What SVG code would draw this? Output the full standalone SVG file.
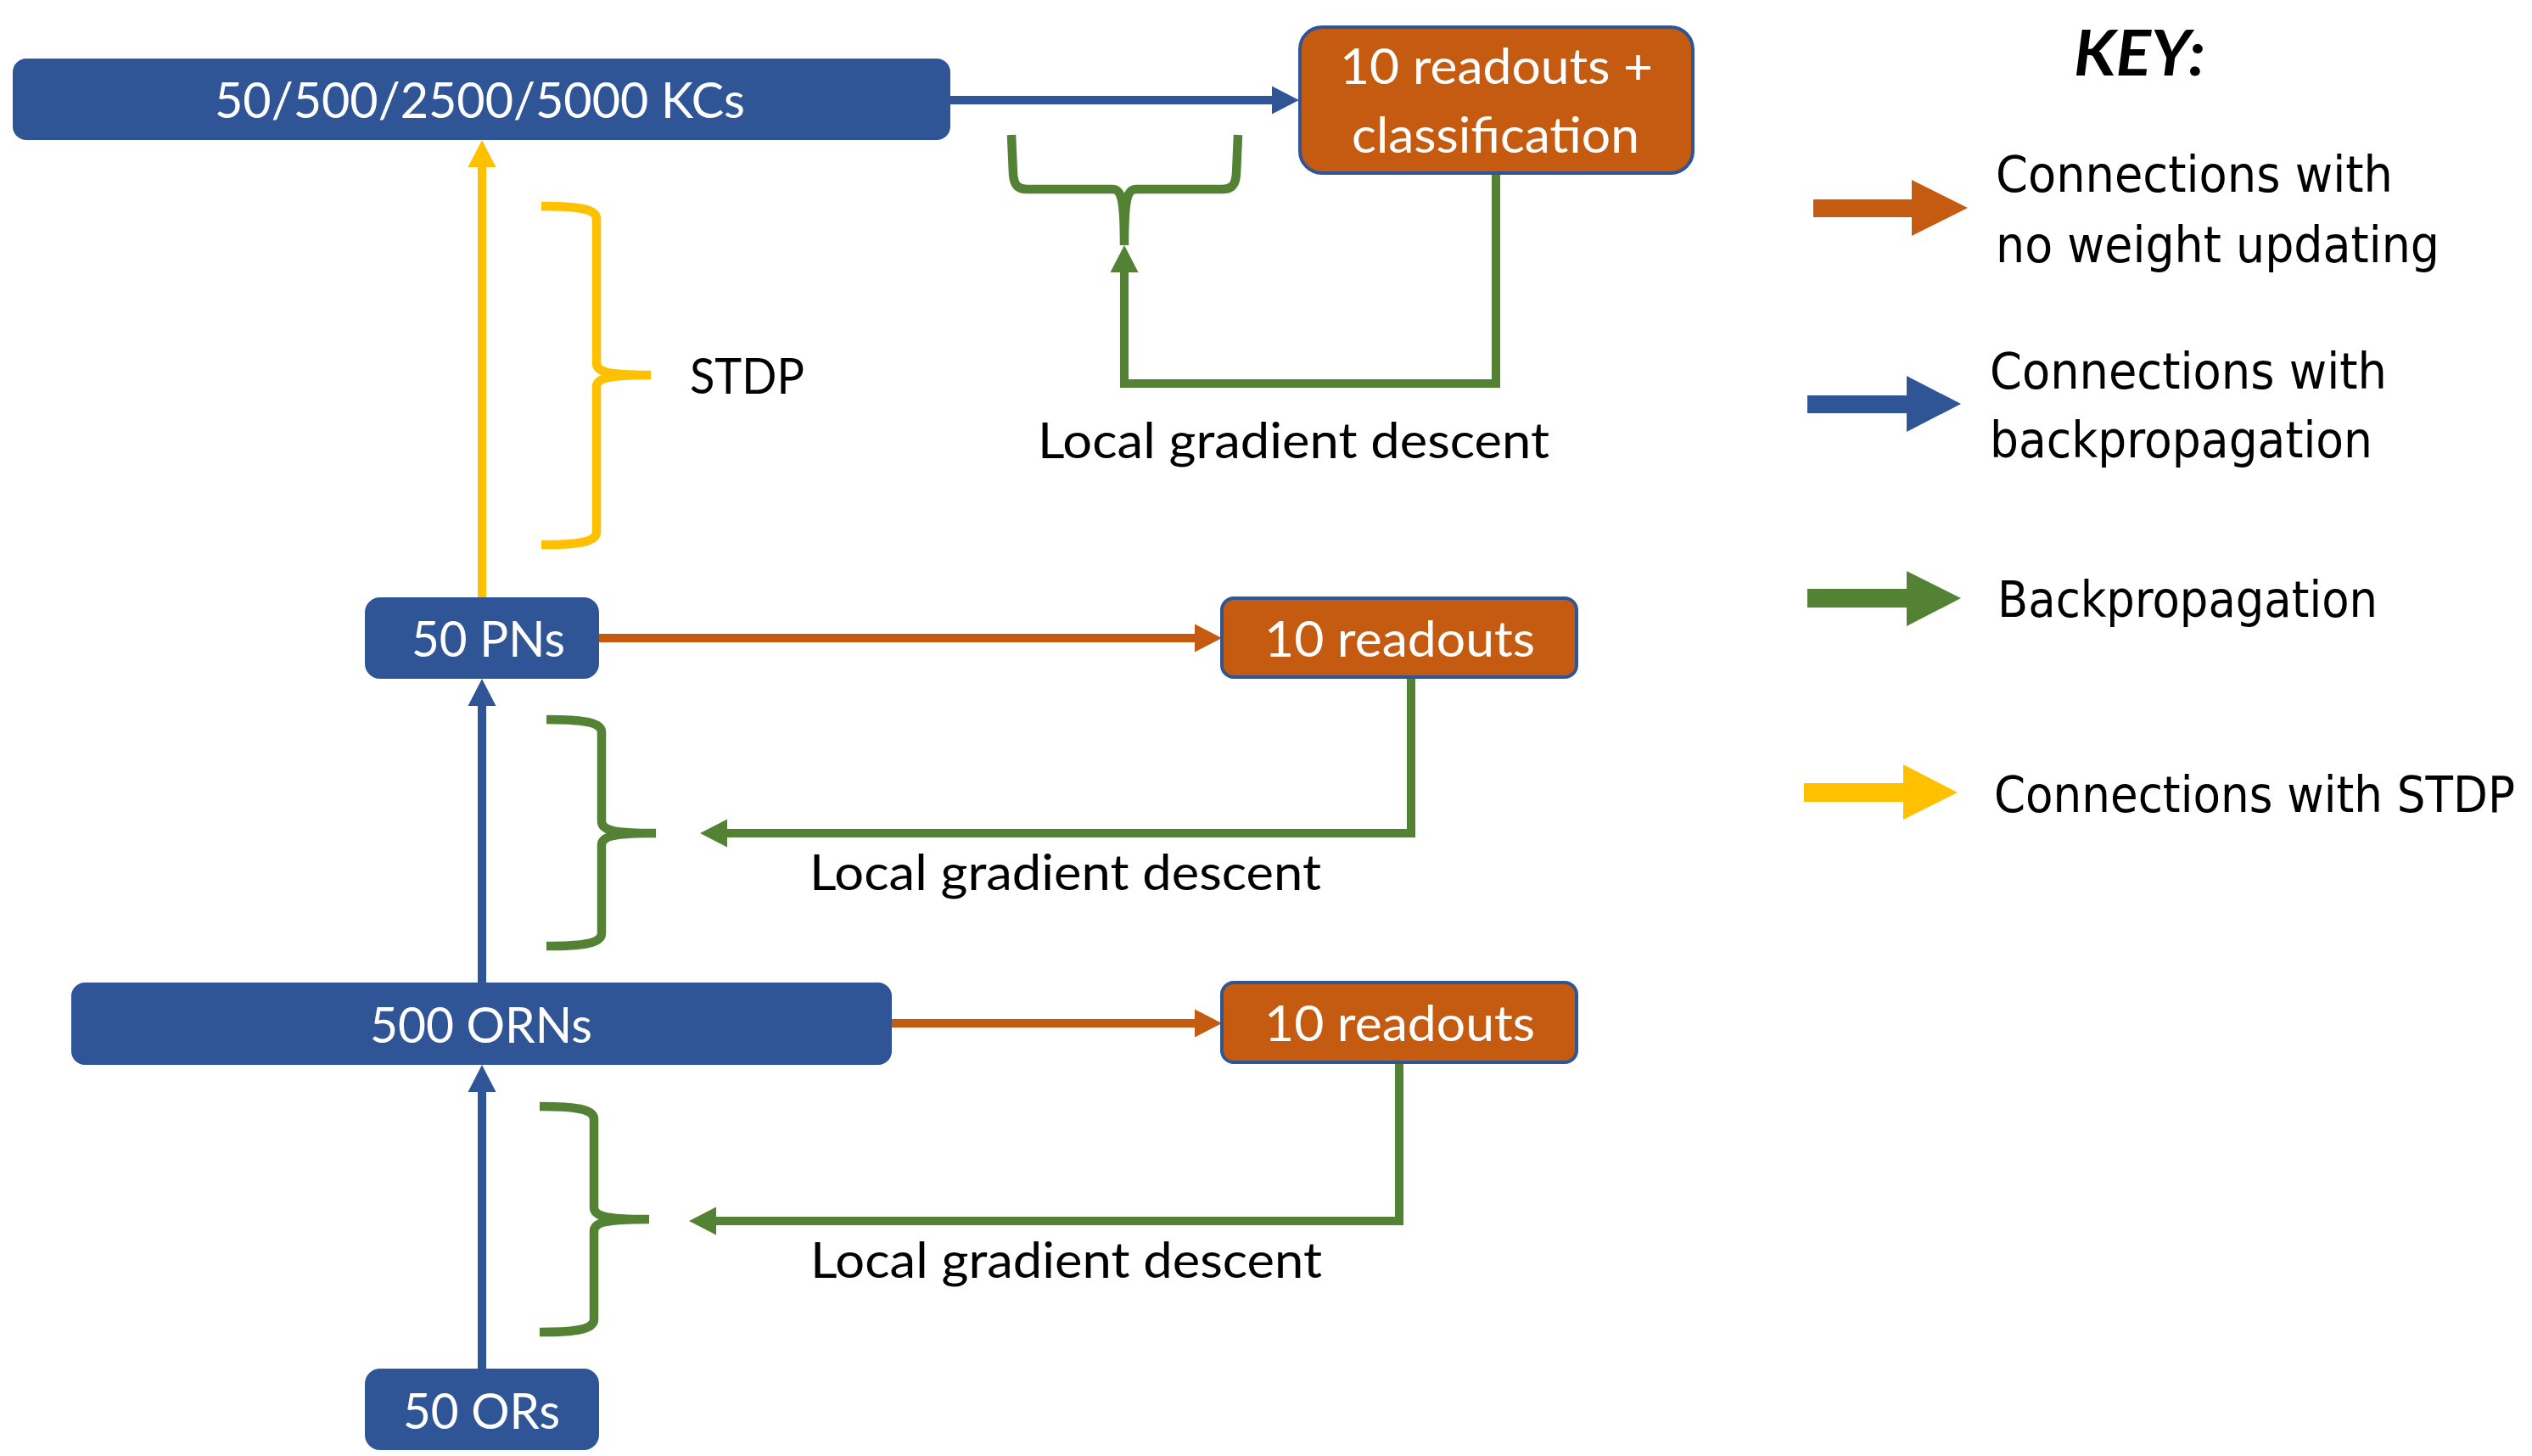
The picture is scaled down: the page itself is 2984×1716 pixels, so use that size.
<svg xmlns="http://www.w3.org/2000/svg" width="2984" height="1716" viewBox="0 0 2984 1716">
<style>
.bluebox{fill:#2F5597;stroke:#2F5597;stroke-width:2}
.orbox{fill:#C55A11;stroke:#2F5597;stroke-width:4}
.t{font-family:Lato,"Liberation Sans",sans-serif;font-size:59px}
.w{fill:#ffffff}
.k{fill:#000000}
.key{font-family:"DejaVu Sans","Liberation Sans",sans-serif;font-size:58px;fill:#000}
.ln{fill:none;stroke-width:10;stroke-linejoin:miter}
.br{fill:none;stroke-width:10.5}
</style>
<defs>
<marker id="hb" markerUnits="userSpaceOnUse" markerWidth="32" markerHeight="34" refX="0" refY="16.5" orient="auto" overflow="visible"><path d="M0,0 L32,16.5 L0,33 z" fill="#2F5597"/></marker>
<marker id="ho" markerUnits="userSpaceOnUse" markerWidth="32" markerHeight="34" refX="0" refY="16.5" orient="auto" overflow="visible"><path d="M0,0 L32,16.5 L0,33 z" fill="#C55A11"/></marker>
<marker id="hg" markerUnits="userSpaceOnUse" markerWidth="32" markerHeight="34" refX="0" refY="16.5" orient="auto" overflow="visible"><path d="M0,0 L32,16.5 L0,33 z" fill="#548235"/></marker>
<marker id="hy" markerUnits="userSpaceOnUse" markerWidth="32" markerHeight="34" refX="0" refY="16.5" orient="auto" overflow="visible"><path d="M0,0 L32,16.5 L0,33 z" fill="#FFC000"/></marker>
</defs>
<rect width="2984" height="1716" fill="#ffffff"/>

<g id="connectors">
<line class="ln" x1="568" y1="706" x2="568" y2="197" stroke="#FFC000" marker-end="url(#hy)"/>
<line class="ln" x1="568" y1="1158" x2="568" y2="832" stroke="#2F5597" marker-end="url(#hb)"/>
<line class="ln" x1="568" y1="1613" x2="568" y2="1287" stroke="#2F5597" marker-end="url(#hb)"/>
<line class="ln" x1="1119" y1="118" x2="1499" y2="118" stroke="#2F5597" marker-end="url(#hb)"/>
<line class="ln" x1="705" y1="752" x2="1408" y2="752" stroke="#C55A11" marker-end="url(#ho)"/>
<line class="ln" x1="1050" y1="1206" x2="1408" y2="1206" stroke="#C55A11" marker-end="url(#ho)"/>
<polyline class="ln" points="1763,205 1763,452 1325,452 1325,321" stroke="#548235" marker-end="url(#hg)"/>
<polyline class="ln" points="1663,798 1663,982 857,982" stroke="#548235" marker-end="url(#hg)"/>
<polyline class="ln" points="1649,1253 1649,1439 844,1439" stroke="#548235" marker-end="url(#hg)"/>
<path class="br" stroke="#FFC000" d="M638,243 C680,243 703,246 703,258 L703,428 C703,438 715,442 767,442 C715,442 703,446 703,456 L703,627 C703,639 680,642 638,642"/>
<path class="br" stroke="#548235" d="M644,848 C686,848 709,851 709,863 L709,968 C709,978 721,982 773,982 C721,982 709,986 709,996 L709,1100 C709,1112 686,1115 644,1115"/>
<path class="br" stroke="#548235" d="M636,1304 C678,1304 700,1307 700,1319 L700,1423 C700,1433 712,1437 765,1437 C712,1437 700,1441 700,1451 L700,1555 C700,1567 678,1570 636,1570"/>
<path class="br" stroke="#548235" d="M1192,159 L1194,205 C1195,218 1199,223 1211,223 L1311,223 C1321,223 1325,232 1325,289 C1325,232 1329,223 1339,223 L1440,223 C1452,223 1456,218 1457,205 L1459,159"/>
</g>

<g id="kcs">
<rect class="bluebox" x="16" y="70" width="1103" height="94" rx="15"/>
<text class="t w" x="253" y="139" textLength="625" lengthAdjust="spacingAndGlyphs">50/500/2500/5000 KCs</text>
</g>
<g id="readout-class">
<rect class="orbox" x="1532" y="32" width="463" height="172" rx="26"/>
<text class="t w" x="1579" y="99" textLength="369" lengthAdjust="spacingAndGlyphs">10 readouts +</text>
<text class="t w" x="1593" y="180" textLength="339" lengthAdjust="spacingAndGlyphs">classification</text>
</g>
<g id="pns">
<rect class="bluebox" x="431" y="705" width="274" height="94" rx="17"/>
<text class="t w" x="485" y="774" textLength="181" lengthAdjust="spacingAndGlyphs">50 PNs</text>
</g>
<g id="readout1">
<rect class="orbox" x="1440" y="705" width="418" height="93" rx="14"/>
<text class="t w" x="1490" y="774" textLength="319" lengthAdjust="spacingAndGlyphs">10 readouts</text>
</g>
<g id="orns">
<rect class="bluebox" x="85" y="1159" width="965" height="95" rx="15"/>
<text class="t w" x="436" y="1229" textLength="262" lengthAdjust="spacingAndGlyphs">500 ORNs</text>
</g>
<g id="readout2">
<rect class="orbox" x="1440" y="1158" width="418" height="94" rx="14"/>
<text class="t w" x="1490" y="1227" textLength="319" lengthAdjust="spacingAndGlyphs">10 readouts</text>
</g>
<g id="ors">
<rect class="bluebox" x="431" y="1614" width="274" height="94" rx="17"/>
<text class="t w" x="475" y="1684" textLength="185" lengthAdjust="spacingAndGlyphs">50 ORs</text>
</g>

<g id="labels">
<text class="t k" x="813" y="464" textLength="135" lengthAdjust="spacingAndGlyphs">STDP</text>
<text class="t k" x="1223" y="540" textLength="603" lengthAdjust="spacingAndGlyphs">Local gradient descent</text>
<text class="t k" x="954" y="1049" textLength="603" lengthAdjust="spacingAndGlyphs">Local gradient descent</text>
<text class="t k" x="955" y="1506" textLength="603" lengthAdjust="spacingAndGlyphs">Local gradient descent</text>
</g>

<g id="key">
<text x="2444" y="89" font-family="Lato,'Liberation Sans',sans-serif" font-weight="bold" font-style="italic" font-size="75" textLength="155" lengthAdjust="spacingAndGlyphs">KEY:</text>
<polygon fill="#C55A11" points="2137,235 2253,235 2253,212 2319,245 2253,278 2253,256 2137,256"/>
<text class="key" x="2352" y="226" textLength="468" lengthAdjust="spacingAndGlyphs">Connections with</text>
<text class="key" x="2352" y="309" textLength="523" lengthAdjust="spacingAndGlyphs">no weight updating</text>
<polygon fill="#2F5597" points="2130,466 2247,466 2247,443 2311,476 2247,509 2247,487 2130,487"/>
<text class="key" x="2345" y="458" textLength="468" lengthAdjust="spacingAndGlyphs">Connections with</text>
<text class="key" x="2345" y="539" textLength="451" lengthAdjust="spacingAndGlyphs">backpropagation</text>
<polygon fill="#548235" points="2130,694 2247,694 2247,673 2311,705 2247,738 2247,716 2130,716"/>
<text class="key" x="2354" y="727" textLength="448" lengthAdjust="spacingAndGlyphs">Backpropagation</text>
<polygon fill="#FFC000" points="2126,923 2243,923 2243,901 2307,934 2243,966 2243,945 2126,945"/>
<text class="key" x="2350" y="957" font-size="54" textLength="614" lengthAdjust="spacingAndGlyphs">Connections with STDP</text>
</g>
</svg>
